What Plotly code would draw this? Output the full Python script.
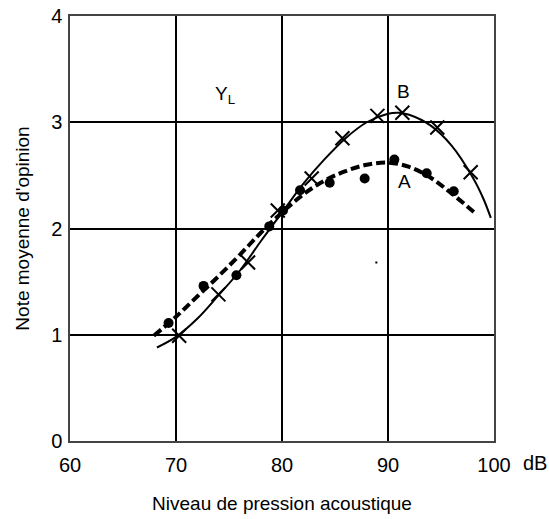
import plotly.graph_objects as go

# Measured points, series A (dots) and B (crosses)
a_x = [69.3, 72.6, 75.7, 78.8, 80.1, 81.7, 84.5, 87.8, 90.6, 93.65, 96.2]
a_y = [1.11, 1.46, 1.56, 2.02, 2.17, 2.36, 2.43, 2.47, 2.65, 2.52, 2.35]
b_x = [70.3, 74.0, 76.8, 79.6, 82.8, 85.7, 89.0, 91.35, 94.65, 97.8]
b_y = [0.99, 1.38, 1.68, 2.17, 2.47, 2.85, 3.06, 3.09, 2.95, 2.53]

# Fitted curves
a_cx = [67.9, 70, 72, 74, 76, 78, 80, 82, 84, 86, 88, 90, 92, 94, 96, 98.4]
a_cy = [0.99, 1.17, 1.36, 1.55, 1.75, 1.96, 2.15, 2.32, 2.45, 2.54, 2.6, 2.62, 2.58, 2.48, 2.33, 2.13]
b_cx = [68.2, 70, 72, 74, 76, 78, 80, 82, 84, 86, 88, 90, 91, 92, 94, 96, 98, 99, 99.7]
b_cy = [0.88, 0.98, 1.15, 1.37, 1.6, 1.88, 2.15, 2.42, 2.65, 2.85, 3.0, 3.08, 3.09, 3.07, 2.97, 2.78, 2.48, 2.28, 2.1]

x_ticks = [60, 70, 80, 90, 100]
y_ticks = [0, 1, 2, 3, 4]

FONT = "Liberation Sans, Arial, sans-serif"

fig = go.Figure()
fig.add_trace(go.Scatter(x=a_cx, y=a_cy, mode="lines", line=dict(color="black", width=4, dash="9px,4px", shape="spline"), showlegend=False))
fig.add_trace(go.Scatter(x=b_cx, y=b_cy, mode="lines", line=dict(color="black", width=2, shape="spline"), showlegend=False))
fig.add_trace(go.Scatter(x=a_x, y=a_y, mode="markers", marker=dict(symbol="circle", size=10, color="black"), showlegend=False))
fig.add_trace(go.Scatter(x=b_x, y=b_y, mode="markers", marker=dict(symbol="x-thin", size=14, line=dict(color="black", width=2)), showlegend=False))
fig.add_trace(go.Scatter(x=[88.9], y=[1.68], mode="markers", marker=dict(symbol="square", size=2, color="black"), showlegend=False))

fig.add_annotation(x=91.45, y=3.29, text="B", showarrow=False, font=dict(size=19, color="black", family=FONT))
fig.add_annotation(x=91.6, y=2.44, text="A", showarrow=False, font=dict(size=19, color="black", family=FONT))
fig.add_annotation(x=74.6, y=3.26, text="Y<sub>L</sub>", showarrow=False, font=dict(size=19, color="black", family=FONT))
fig.add_annotation(x=1.0, xref="paper", xanchor="left", xshift=27, y=0, yref="y", yshift=-22,
                   text="dB", showarrow=False, font=dict(size=20, color="black", family=FONT))

fig.update_xaxes(range=[60, 100], tickvals=x_ticks, showgrid=True, gridcolor="black", gridwidth=2,
                 showline=True, linecolor="#444", linewidth=1.5, mirror=True, ticks="", zeroline=False,
                 ticklabelstandoff=5, automargin=False,
                 tickfont=dict(size=20, color="black", family=FONT),
                 title=dict(text="Niveau de pression acoustique", font=dict(size=19, color="black", family=FONT), standoff=22))
fig.update_yaxes(range=[0, 4], tickvals=y_ticks, showgrid=True, gridcolor="black", gridwidth=2,
                 showline=True, linecolor="#444", linewidth=1.5, mirror=True, ticks="", zeroline=False,
                 ticklabelstandoff=2, automargin=False,
                 tickfont=dict(size=20, color="black", family=FONT),
                 title=dict(text="Note moyenne d'opinion", font=dict(size=19, color="black", family=FONT), standoff=16))

fig.update_layout(width=549, height=519, margin=dict(l=70, r=55, t=16, b=78),
                  paper_bgcolor="white", plot_bgcolor="white")

fig.write_html("out.html")
